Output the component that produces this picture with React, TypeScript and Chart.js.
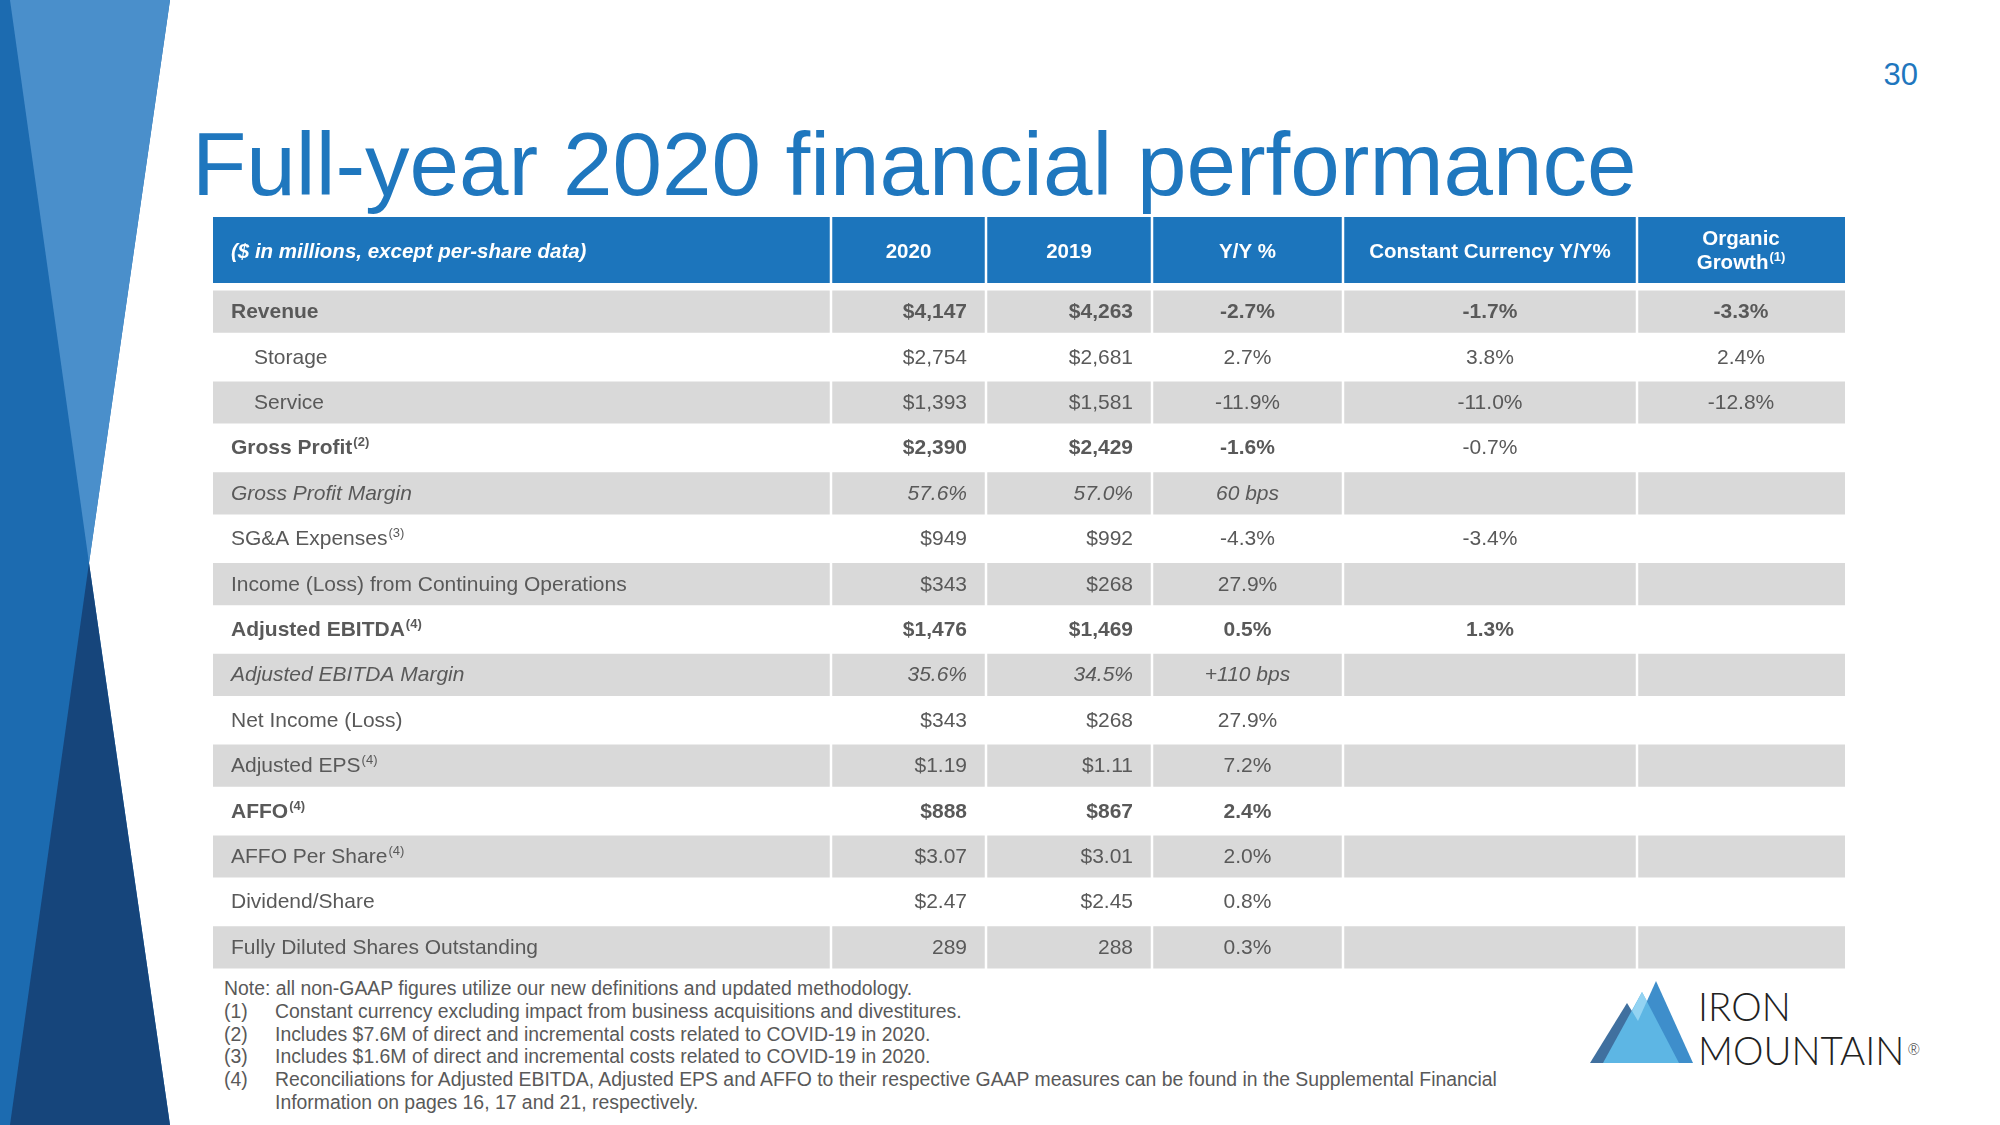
import React, { useEffect, useRef } from 'react';
import { Chart, registerables } from 'chart.js';

Chart.register(...registerables);

// ---------- DATA ----------
const COLUMN_HEADERS = ['($ in millions, except per-share data)', '2020', '2019', 'Y/Y %', 'Constant Currency Y/Y%', 'Organic\nGrowth'];
const HEADER_NOTES = ['', '', '', '', '', '(1)'];

const ROW_LABELS = [
  'Revenue', 'Storage', 'Service', 'Gross Profit', 'Gross Profit Margin', 'SG&A Expenses',
  'Income (Loss) from Continuing Operations', 'Adjusted EBITDA', 'Adjusted EBITDA Margin',
  'Net Income (Loss)', 'Adjusted EPS', 'AFFO', 'AFFO Per Share', 'Dividend/Share',
  'Fully Diluted Shares Outstanding',
];
const ROW_NOTES = ['', '', '', '(2)', '', '(3)', '', '(4)', '', '', '(4)', '(4)', '(4)', '', ''];

const VALUES_2020 = ['$4,147', '$2,754', '$1,393', '$2,390', '57.6%', '$949', '$343', '$1,476', '35.6%', '$343', '$1.19', '$888', '$3.07', '$2.47', '289'];
const VALUES_2019 = ['$4,263', '$2,681', '$1,581', '$2,429', '57.0%', '$992', '$268', '$1,469', '34.5%', '$268', '$1.11', '$867', '$3.01', '$2.45', '288'];
const YOY_CHANGE = ['-2.7%', '2.7%', '-11.9%', '-1.6%', '60 bps', '-4.3%', '27.9%', '0.5%', '+110 bps', '27.9%', '7.2%', '2.4%', '2.0%', '0.8%', '0.3%'];
const CONSTANT_CURRENCY = ['-1.7%', '3.8%', '-11.0%', '-0.7%', '', '-3.4%', '', '1.3%', '', '', '', '', '', '', ''];
const ORGANIC_GROWTH = ['-3.3%', '2.4%', '-12.8%', '', '', '', '', '', '', '', '', '', '', '', ''];

const ROW_BOLD = [true, false, false, true, false, false, false, true, false, false, false, true, false, false, false];
const ROW_ITALIC = [false, false, false, false, true, false, false, false, true, false, false, false, false, false, false];
const ROW_INDENT = [false, true, true, false, false, false, false, false, false, false, false, false, false, false, false];
const REGULAR_CELLS = [[3, 4]]; // Gross Profit constant-currency value is not bold

const FOOTNOTES = [
  ['', 'Note: all non-GAAP figures utilize our new definitions and updated methodology.'],
  ['(1)', 'Constant currency excluding impact from business acquisitions and divestitures.'],
  ['(2)', 'Includes $7.6M of direct and incremental costs related to COVID-19 in 2020.'],
  ['(3)', 'Includes $1.6M of direct and incremental costs related to COVID-19 in 2020.'],
  ['(4)', 'Reconciliations for Adjusted EBITDA, Adjusted EPS and AFFO to their respective GAAP measures can be found in the Supplemental Financial'],
  ['', 'Information on pages 16, 17 and 21, respectively.'],
];

// ---------- LAYOUT / STYLE ----------
const FONT = '"Liberation Sans", Arial, Helvetica, sans-serif';
const TABLE_W = 1632;
const TABLE_H = 753;
const HEADER_H = 66;
const BODY_TOP = 72;
const COL_EDGES = [0, 618, 773, 939, 1130, 1424, 1632];
const GAP = 2.5;
const HEADER_BG = '#1C75BC';
const ROW_BG = '#D9D9D9';
const TEXT = '#595959';

const COLUMN_VALUES = [VALUES_2020, VALUES_2019, YOY_CHANGE, CONSTANT_CURRENCY, ORGANIC_GROWTH];
const COLUMN_ALIGN = ['right', 'right', 'center', 'center', 'center'];

function font(size: number, bold: boolean, italic: boolean) {
  return `${italic ? 'italic ' : ''}${bold ? 'bold ' : ''}${size}px ${FONT}`;
}

function drawRich(ctx: CanvasRenderingContext2D, text: string, sup: string, x: number, y: number,
  align: string, size: number, bold: boolean, italic: boolean, supRaise: number) {
  ctx.font = font(size, bold, italic);
  const w = ctx.measureText(text).width;
  const supSize = Math.round(size * 0.62);
  ctx.font = font(supSize, bold, italic);
  const sw = sup ? ctx.measureText(sup).width + 1 : 0;
  let start = x;
  if (align === 'right') start = x - w - sw;
  else if (align === 'center') start = x - (w + sw) / 2;
  ctx.textAlign = 'left';
  ctx.textBaseline = 'alphabetic';
  ctx.font = font(size, bold, italic);
  ctx.fillText(text, start, y);
  if (sup) {
    ctx.font = font(supSize, bold, italic);
    ctx.fillText(sup, start + w + 1, y - supRaise);
  }
}

const tablePlugin = {
  id: 'tableLayer',
  beforeDatasetsDraw(chart: any) {
    const ctx: CanvasRenderingContext2D = chart.ctx;
    const xs = chart.scales.x;
    const last = COLUMN_HEADERS.length - 1;
    ctx.save();
    ctx.fillStyle = HEADER_BG;
    for (let c = 0; c <= last; c++) {
      const x0 = xs.getPixelForValue(COL_EDGES[c]) + (c > 0 ? GAP / 2 : 0);
      const x1 = xs.getPixelForValue(COL_EDGES[c + 1]) - (c < last ? GAP / 2 : 0);
      ctx.fillRect(x0, 0, x1 - x0, HEADER_H);
    }
    ctx.fillStyle = '#FFFFFF';
    for (let c = 0; c <= last; c++) {
      const x0 = xs.getPixelForValue(COL_EDGES[c]);
      const x1 = xs.getPixelForValue(COL_EDGES[c + 1]);
      const lines = COLUMN_HEADERS[c].split('\n');
      if (c === 0) {
        drawRich(ctx, lines[0], '', x0 + 18, 41, 'left', 20.5, true, true, 8);
      } else if (lines.length === 1) {
        drawRich(ctx, lines[0], HEADER_NOTES[c], (x0 + x1) / 2, 41, 'center', 20.5, true, false, 8);
      } else {
        drawRich(ctx, lines[0], '', (x0 + x1) / 2, 28, 'center', 20.5, true, false, 8);
        drawRich(ctx, lines[1], HEADER_NOTES[c], (x0 + x1) / 2, 52, 'center', 20.5, true, false, 8);
      }
    }
    ctx.restore();
  },
  afterDatasetsDraw(chart: any) {
    const ctx: CanvasRenderingContext2D = chart.ctx;
    const xs = chart.scales.x;
    const ys = chart.scales.y;
    ctx.save();
    ctx.fillStyle = TEXT;
    ROW_LABELS.forEach((label, i) => {
      const y = ys.getPixelForValue(i) + 6.5;
      const bold = ROW_BOLD[i];
      const italic = ROW_ITALIC[i];
      const lx = xs.getPixelForValue(COL_EDGES[0]) + (ROW_INDENT[i] ? 41 : 18);
      drawRich(ctx, label, ROW_NOTES[i], lx, y, 'left', 21, bold, italic, 8);
      COLUMN_VALUES.forEach((vals, k) => {
        const v = vals[i];
        if (!v) return;
        const c = k + 1;
        const x0 = xs.getPixelForValue(COL_EDGES[c]);
        const x1 = xs.getPixelForValue(COL_EDGES[c + 1]);
        const align = COLUMN_ALIGN[k];
        const isRegular = REGULAR_CELLS.some(([r, cc]) => r === i && cc === c);
        const tx = align === 'right' ? x1 - 19 : (x0 + x1) / 2;
        drawRich(ctx, v, '', tx, y, align, 21, bold && !isRegular, italic, 8);
      });
    });
    ctx.restore();
  },
};

export default function App() {
  const ref = useRef<HTMLCanvasElement>(null);

  useEffect(() => {
    if (!ref.current) return;
    const last = COLUMN_HEADERS.length - 1;
    const chart = new Chart(ref.current, {
      type: 'bar',
      data: {
        labels: ROW_LABELS,
        datasets: COLUMN_HEADERS.map((_, c) => ({
          label: `col${c}`,
          data: ROW_LABELS.map((_, i) => (i % 2 === 0
            ? [COL_EDGES[c] + (c > 0 ? GAP / 2 : 0), COL_EDGES[c + 1] - (c < last ? GAP / 2 : 0)]
            : null)) as any,
          backgroundColor: ROW_BG,
          borderWidth: 0,
          barPercentage: 1,
          categoryPercentage: 0.93,
          grouped: false,
        })),
      },
      options: {
        indexAxis: 'y',
        responsive: false,
        maintainAspectRatio: false,
        animation: false,
        devicePixelRatio: 1,
        events: [],
        layout: { padding: { top: BODY_TOP, left: 0, right: 0, bottom: 0 } },
        scales: {
          x: { type: 'linear', min: 0, max: TABLE_W, display: false },
          y: { type: 'category', display: false, offset: true },
        },
        plugins: { legend: { display: false }, tooltip: { enabled: false } },
      } as any,
      plugins: [tablePlugin],
    });
    return () => chart.destroy();
  }, []);

  return (
    <div style={{ position: 'fixed', left: 0, top: 0, width: 2000, height: 1125, overflow: 'hidden', background: '#FFFFFF', fontFamily: FONT }}>
      <svg width={2000} height={1125} style={{ position: 'absolute', left: 0, top: 0 }}>
        <polygon points="0,0 170,0 89,563 170,1125 0,1125" fill="#1C6BB0" />
        <polygon points="10,0 170,0 89,563" fill="#4A8FCB" />
        <polygon points="89,563 170,1125 10,1125" fill="#16457B" />
        <polygon points="1590,1063 1627,1003 1664,1063" fill="#40709F" />
        <polygon points="1619,1063 1656,981 1693,1063" fill="#3E8ECB" />
        <polygon points="1603,1063 1642,992 1679,1063" fill="#5DB6E4" />
        <polygon points="1642,992 1647,1001 1638,1021 1632,1011" fill="#93D3F2" />
      </svg>

      <div style={{ position: 'absolute', left: 192, top: 120, fontSize: 89, lineHeight: '88px', color: '#1F77BE', whiteSpace: 'nowrap' }}>
        Full-year 2020 financial performance
      </div>

      <div style={{ position: 'absolute', right: 82, top: 59, fontSize: 31, lineHeight: '31px', color: '#1F77BE' }}>30</div>

      <canvas ref={ref} width={TABLE_W} height={TABLE_H}
        style={{ position: 'absolute', left: 213, top: 217, width: TABLE_W, height: TABLE_H }} />

      <div style={{ position: 'absolute', left: 224, top: 977, fontSize: 19.4, lineHeight: '22.8px', color: TEXT, whiteSpace: 'nowrap' }}>
        {FOOTNOTES.map(([num, text], i) => (
          <div key={i} style={{ display: 'flex' }}>
            {i === 0 ? <span>{text}</span> : (
              <>
                <span style={{ width: 51, flex: 'none' }}>{num}</span>
                <span>{text}</span>
              </>
            )}
          </div>
        ))}
      </div>

      <div style={{ position: 'absolute', left: 1698, top: 984, fontFamily: 'Lato, "Open Sans", sans-serif', fontWeight: 300, fontSize: 38.5, lineHeight: '44px', color: '#222222', whiteSpace: 'nowrap' }}>
        <div>IRON</div>
        <div>MOUNTAIN<span style={{ fontSize: 15, verticalAlign: 'top', position: 'relative', top: -1, marginLeft: 3 }}>®</span></div>
      </div>
    </div>
  );
}
